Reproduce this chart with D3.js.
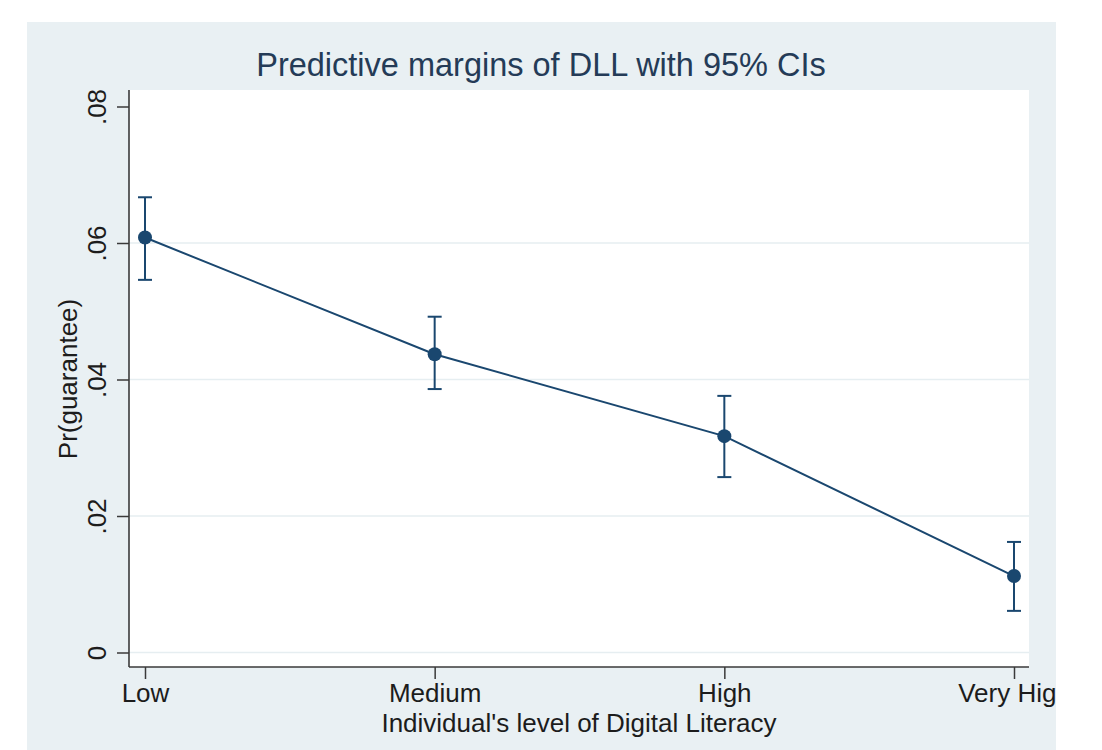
<!DOCTYPE html>
<html>
<head>
<meta charset="utf-8">
<script src="https://cdn.jsdelivr.net/npm/d3@7"></script>
<style>
  html, body { margin: 0; padding: 0; background: #ffffff; }
  svg { display: block; font-family: "Liberation Sans", Arial, Helvetica, sans-serif; }
</style>
</head>
<body>
<svg id="chart" width="1102" height="750"></svg>
<script>
// Predictive margins of DLL (digital literacy level) with 95% confidence intervals
const categories = ["Low", "Medium", "High", "Very High"];
const margins    = [0.0608, 0.0437, 0.0317, 0.0112];
const ciLower    = [0.0546, 0.0386, 0.0257, 0.0061];
const ciUpper    = [0.0667, 0.0492, 0.0376, 0.0162];
const yTicks     = [0, 0.02, 0.04, 0.06, 0.08];
const yTickLabels = ["0", ".02", ".04", ".06", ".08"];

const titleText = "Predictive margins of DLL with 95% CIs";
const xTitle = "Individual's level of Digital Literacy";
const yTitle = "Pr(guarantee)";

const navy = "#1a476f";
const panelBg = "#e9f0f3";
const gridColor = "#e6eef1";
const axisColor = "#3a3a3a";
const textColor = "#1c1c1c";

const svg = d3.select("#chart");

// outer graph panel
const panel = { x: 27, y: 22, w: 1029, h: 728 };
svg.append("clipPath").attr("id", "panel-clip")
  .append("rect").attr("x", panel.x).attr("y", panel.y).attr("width", panel.w).attr("height", panel.h);

const g = svg.append("g").attr("clip-path", "url(#panel-clip)");
g.append("rect")
  .attr("x", panel.x).attr("y", panel.y).attr("width", panel.w).attr("height", panel.h)
  .attr("fill", panelBg);

// plot region
const plot = { left: 129, right: 1029, top: 90, bottom: 667 };
g.append("rect")
  .attr("x", plot.left).attr("y", plot.top)
  .attr("width", plot.right - plot.left).attr("height", plot.bottom - plot.top)
  .attr("fill", "#ffffff");

const x = d3.scalePoint().domain(categories).range([145, 1014]);
const y = d3.scaleLinear().domain([0, 0.08]).range([652.5, 106.5]);

// horizontal grid lines
g.append("g").selectAll("line")
  .data(yTicks.filter(t => t < 0.08))
  .join("line")
  .attr("x1", plot.left).attr("x2", plot.right)
  .attr("y1", d => y(d)).attr("y2", d => y(d))
  .attr("stroke", gridColor).attr("stroke-width", 1.5);

// y axis
const yAxis = d3.axisLeft(y).tickValues(yTicks)
  .tickFormat((d, i) => yTickLabels[i]).tickSize(12).tickSizeOuter(0);
const yg = g.append("g").attr("transform", `translate(${plot.left},0)`).call(yAxis);
yg.select(".domain").remove();
yg.selectAll(".tick line").attr("stroke", axisColor).attr("stroke-width", 1.5);
yg.selectAll(".tick text")
  .attr("x", 0).attr("y", 0).attr("dy", null)
  .attr("transform", "translate(-23,0) rotate(-90)")
  .attr("text-anchor", "middle")
  .attr("font-size", 26)
  .attr("font-family", "Liberation Sans, Arial, sans-serif")
  .attr("fill", textColor);
g.append("line")
  .attr("x1", plot.left).attr("x2", plot.left)
  .attr("y1", plot.top).attr("y2", plot.bottom)
  .attr("stroke", axisColor).attr("stroke-width", 1.6);

// x axis
const xAxis = d3.axisBottom(x).tickSize(12).tickSizeOuter(0).tickPadding(6);
const xg = g.append("g").attr("transform", `translate(0,${plot.bottom})`).call(xAxis);
xg.select(".domain").remove();
xg.selectAll(".tick line").attr("stroke", axisColor).attr("stroke-width", 1.5);
xg.selectAll(".tick text")
  .attr("y", 35).attr("dy", null)
  .attr("font-size", 26)
  .attr("font-family", "Liberation Sans, Arial, sans-serif")
  .attr("fill", textColor);
g.append("line")
  .attr("x1", plot.left).attr("x2", plot.right)
  .attr("y1", plot.bottom).attr("y2", plot.bottom)
  .attr("stroke", axisColor).attr("stroke-width", 1.6);

// connecting line
const line = d3.line().x((d, i) => x(categories[i])).y(d => y(d));
g.append("path")
  .datum(margins)
  .attr("d", line)
  .attr("fill", "none")
  .attr("stroke", navy).attr("stroke-width", 2);

// confidence interval caps and whiskers
const capHalf = 7;
const ci = g.append("g").attr("stroke", navy).attr("stroke-width", 2).attr("fill", "none");
categories.forEach((c, i) => {
  const cx = x(c);
  ci.append("line").attr("x1", cx).attr("x2", cx).attr("y1", y(ciLower[i])).attr("y2", y(ciUpper[i]));
  ci.append("line").attr("x1", cx - capHalf).attr("x2", cx + capHalf).attr("y1", y(ciUpper[i])).attr("y2", y(ciUpper[i]));
  ci.append("line").attr("x1", cx - capHalf).attr("x2", cx + capHalf).attr("y1", y(ciLower[i])).attr("y2", y(ciLower[i]));
});

// point markers
g.append("g").selectAll("circle")
  .data(margins)
  .join("circle")
  .attr("cx", (d, i) => x(categories[i]))
  .attr("cy", d => y(d))
  .attr("r", 7)
  .attr("fill", navy);

// titles
g.append("text")
  .attr("x", 541).attr("y", 76)
  .attr("text-anchor", "middle")
  .attr("font-size", 32.5)
  .attr("fill", "#243b57")
  .text(titleText);

g.append("text")
  .attr("x", 579).attr("y", 732)
  .attr("text-anchor", "middle")
  .attr("font-size", 26)
  .attr("fill", textColor)
  .text(xTitle);

g.append("text")
  .attr("transform", `translate(77,${379}) rotate(-90)`)
  .attr("text-anchor", "middle")
  .attr("font-size", 26)
  .attr("fill", textColor)
  .text(yTitle);
</script>
</body>
</html>
